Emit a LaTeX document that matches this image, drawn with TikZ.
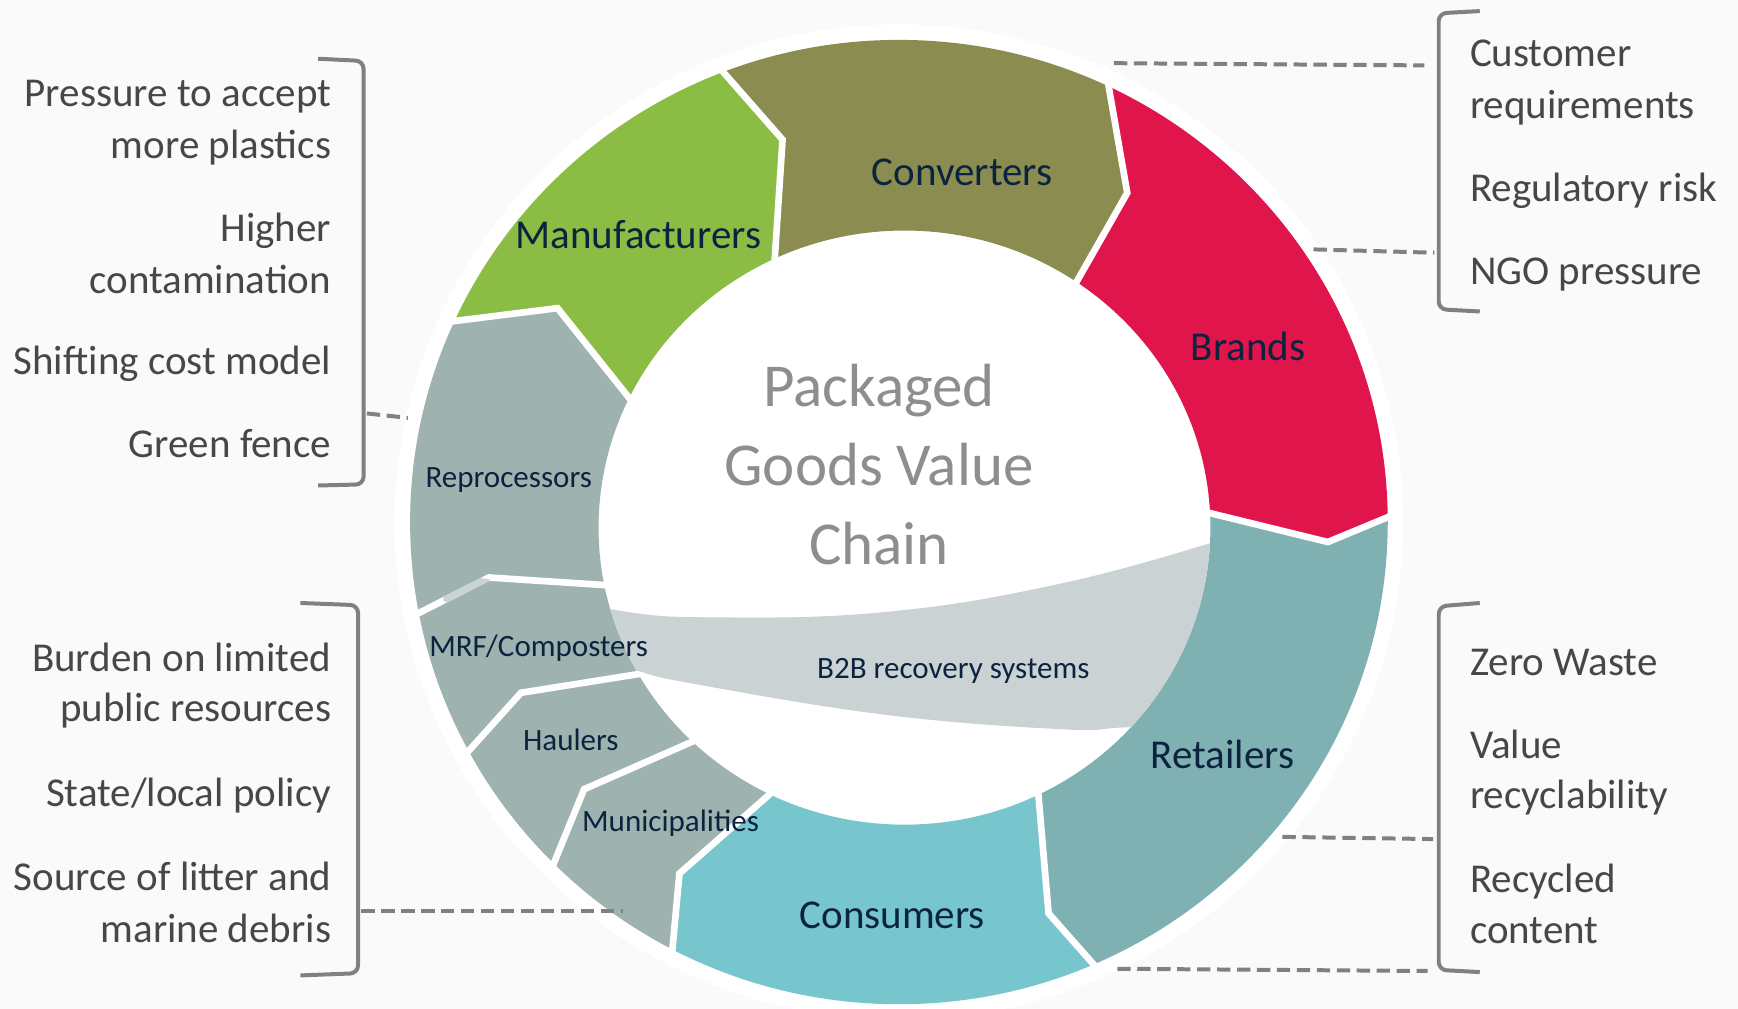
\documentclass[tikz,border=0pt]{standalone}
\usepackage{fontspec}
\setmainfont{Carlito}
\usetikzlibrary{calc}
\definecolor{mfgreen}{HTML}{8BBD44}
\definecolor{cvolive}{HTML}{8A8D4F}
\definecolor{brred}{HTML}{E0154C}
\definecolor{rtteal}{HTML}{80B1B2}
\definecolor{cscyan}{HTML}{77C6CD}
\definecolor{rcgray}{HTML}{9EB2AF}
\definecolor{bandgray}{HTML}{CBD2D3}
\definecolor{navy}{HTML}{0C2340}
\definecolor{txtgray}{HTML}{474747}
\definecolor{ttlgray}{HTML}{8E8E8E}
\definecolor{lngray}{HTML}{808080}
\definecolor{bggray}{HTML}{FAFAFA}
\tikzset{
  seglabel/.style = {text=navy, inner sep=0, anchor=base, font=\fontsize{37}{44}\selectfont},
  smlabel/.style = {text=navy, inner sep=0, anchor=base, font=\fontsize{28}{34}\selectfont},
  ttl/.style = {text=ttlgray, inner sep=0, anchor=base, font=\fontsize{55}{68}\selectfont},
  lefttext/.style = {text=txtgray, inner sep=0, anchor=base east, font=\fontsize{37}{46}\selectfont},
  righttext/.style = {text=txtgray, inner sep=0, anchor=base west, font=\fontsize{37}{46}\selectfont},
  gapline/.style = {white, line width=6pt},
  leader/.style = {lngray, line width=3.6pt, dash pattern=on 12pt off 6pt},
  bracket/.style = {lngray, line width=3.6pt, rounded corners=7pt},
}

\begin{document}
\begin{tikzpicture}[x=1pt, y=-1pt]
  \fill[bggray] (0,0) rectangle (1568,910);
  \useasboundingbox (0,0) rectangle (1568,910);
  \fill[white] (811,471) ellipse [x radius=455, y radius=449];

  \coordinate (c) at (811,471);
  \coordinate (i0) at (566,357);  \coordinate (k0) at (503,278);  \coordinate (o0) at (407,290);
  \coordinate (i1) at (699,233);  \coordinate (k1) at (706,126);  \coordinate (o1) at (649,61);
  \coordinate (i2) at (972,253);  \coordinate (k2) at (1017,174); \coordinate (o2) at (999,71);
  \coordinate (i3) at (1092,463); \coordinate (k3) at (1198,489); \coordinate (o3) at (1251,467);
  \coordinate (i4) at (937,719);  \coordinate (k4) at (946,824);  \coordinate (o4) at (991,875);
  \coordinate (i5) at (695,716);  \coordinate (k5) at (613,788);  \coordinate (o5) at (606,863);
  \coordinate (i6) at (627,668);  \coordinate (k6) at (527,712);  \coordinate (o6) at (500,778);
  \coordinate (i7) at (577,608);  \coordinate (k7) at (470,625);  \coordinate (o7) at (425,675);
  \coordinate (i8) at (548,528);  \coordinate (k8) at (441,521);  \coordinate (o8) at (378,553);

  \foreach \a/\b/\col in {0/1/mfgreen, 1/2/cvolive, 2/3/brred, 3/4/rtteal, 4/5/cscyan,
                          5/6/rcgray, 6/7/rcgray, 7/8/rcgray, 8/0/rcgray} {
    \begin{scope}
      \clip (c) -- ($(k\a)!1.3!(i\a)$) -- (k\a) -- (o\a) -- ($(c)!1.5!(o\a)$)
        -- ($(c)!1.5!(o\b)$) -- (o\b) -- (k\b) -- ($(k\b)!1.3!(i\b)$) -- cycle;
      \fill[\col, even odd rule] (811,471) ellipse [x radius=441, y radius=435]
        (816,476) ellipse [x radius=276, y radius=268];
    \end{scope}
  }
  \foreach \a in {0,...,8}
    \draw[gapline] ($(k\a)!1.3!(i\a)$) -- (k\a) -- ($(k\a)!1.12!(o\a)$);

  \path[save path=\bandpath]
    plot [smooth, tension=0.7] coordinates {(400,528) (437,522) (553,550) (650,557) (800,552) (950,528) (1092,490) (1160,465)}
    -- plot [smooth, tension=0.7] coordinates {(1160,652) (1021,656) (960,658) (800,645) (632,618) (571,604) (480,575) (400,542)}
    -- cycle;
  \begin{scope}
    \clip (816,476) ellipse [x radius=276, y radius=268];
    \fill[bandgray, use path=\bandpath];
  \end{scope}
  \begin{scope}
    \clip ($(k8)!3pt!90:(o8)$) -- ($(o8)!3pt!-90:(k8)$) -- ($(o8)!3pt!90:(k8)$) -- ($(k8)!3pt!-90:(o8)$) -- cycle;
    \fill[bandgray, use path=\bandpath];
  \end{scope}

  \node[ttl] (tt1) at (793,367) {Packaged};
  \node[ttl] (tt2) at (793,438) {Goods Value};
  \node[ttl] (tt3) at (793,509) {Chain};

  \node[seglabel] (mfr) at (576,224) {Manufacturers};
  \node[seglabel] (cnv) at (868,167) {Converters};
  \node[seglabel] (brd) at (1126,325) {Brands};
  \node[seglabel] (rtl) at (1103,693) {Retailers};
  \node[seglabel] (csm) at (805,838) {Consumers};
  \node[smlabel] (rpr) at (459,440) {Reprocessors};
  \node[smlabel] (mrf) at (486,592) {MRF/Composters};
  \node[smlabel] (hlr) at (515,677) {Haulers};
  \node[smlabel] (mnc) at (605,750) {Municipalities};
  \node[smlabel] (b2b) at (860,612) {B2B recovery systems};

  \node[lefttext] (lt1a) at (299,96) {Pressure to accept};
  \node[lefttext] (lt1b) at (299,143) {more plastics};
  \node[lefttext] (lt2a) at (299,218) {Higher};
  \node[lefttext] (lt2b) at (299,265) {contamination};
  \node[lefttext] (lt3) at (299,338) {Shifting cost model};
  \node[lefttext] (lt4) at (299,413) {Green fence};

  \node[lefttext] (lb1a) at (299,606) {Burden on limited};
  \node[lefttext] (lb1b) at (299,651) {public resources};
  \node[lefttext] (lb2) at (299,728) {State/local policy};
  \node[lefttext] (lb3a) at (299,803) {Source of litter and};
  \node[lefttext] (lb3b) at (299,850) {marine debris};

  \node[righttext] (rt1a) at (1326,60) {Customer};
  \node[righttext] (rt1b) at (1326,107) {requirements};
  \node[righttext] (rt2) at (1326,182) {Regulatory risk};
  \node[righttext] (rt3) at (1326,257) {NGO pressure};

  \node[righttext] (rb1) at (1326,609) {Zero Waste};
  \node[righttext] (rb2a) at (1326,684) {Value};
  \node[righttext] (rb2b) at (1326,729) {recyclability};
  \node[righttext] (rb3a) at (1326,805) {Recycled};
  \node[righttext] (rb3b) at (1326,851) {content};

  \draw[bracket] (287,53) -- (328,55) -- (328,437) -- (287,438);
  \draw[bracket] (271,544) -- (323,546) -- (323,878) -- (271,880);
  \draw[bracket] (1335,10) -- (1298,12) -- (1298,279) -- (1335,281);
  \draw[bracket] (1335,544) -- (1298,547) -- (1298,875) -- (1335,877);

  \coordinate (ld1a) at (331,373);  \coordinate (ld1b) at (368,377);
  \coordinate (ld2a) at (326,822);  \coordinate (ld2b) at (562,822);
  \coordinate (ld3a) at (1005,57);  \coordinate (ld3b) at (1285,59);
  \coordinate (ld4a) at (1185,225); \coordinate (ld4b) at (1294,228);
  \coordinate (ld5a) at (1157,755); \coordinate (ld5b) at (1293,757);
  \coordinate (ld6a) at (1008,874); \coordinate (ld6b) at (1288,876);
  \draw[leader] (ld1a) -- (ld1b);
  \draw[leader] (ld2a) -- (ld2b);
  \draw[leader] (ld3a) -- (ld3b);
  \draw[leader] (ld4a) -- (ld4b);
  \draw[leader] (ld5a) -- (ld5b);
  \draw[leader] (ld6a) -- (ld6b);
\end{tikzpicture}
\end{document}
